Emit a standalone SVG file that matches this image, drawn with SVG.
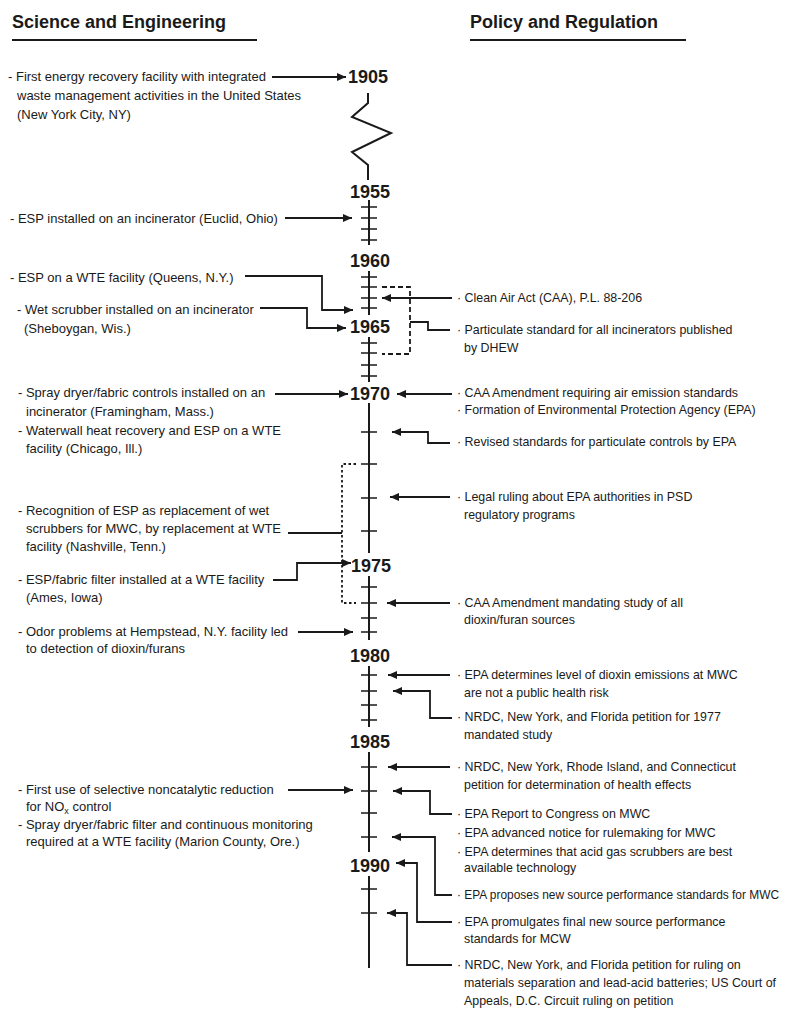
<svg xmlns="http://www.w3.org/2000/svg" width="796" height="1010" viewBox="0 0 796 1010">
<style>
.t{font-family:"Liberation Sans",Arial,sans-serif;font-size:13px;fill:#1a1a1a}
.r{font-family:"Liberation Sans",Arial,sans-serif;font-size:12.4px;fill:#1a1a1a}
.h{font-family:"Liberation Sans",Arial,sans-serif;font-size:18px;font-weight:bold;fill:#1a1a1a}
.y{font-family:"Liberation Sans",Arial,sans-serif;font-size:18px;font-weight:bold;fill:#1a1a1a;text-anchor:middle}
.ax{stroke:#1a1a1a;stroke-width:2;fill:none}
.tk{stroke:#1a1a1a;stroke-width:1.6}
.c{stroke:#1a1a1a;stroke-width:1.8;fill:none}
.ca{stroke:#1a1a1a;stroke-width:1.8;fill:none;marker-end:url(#ah)}
.dash{stroke:#1a1a1a;stroke-width:1.8;fill:none;stroke-dasharray:5 3}
.dot{stroke:#1a1a1a;stroke-width:1.8;fill:none;stroke-dasharray:2.5 2.5}
</style>
<defs>
<marker id="ah" markerUnits="userSpaceOnUse" markerWidth="10" markerHeight="8" refX="9" refY="4" orient="auto">
<path d="M0,0 L9,4 L0,8 z" fill="#1a1a1a"/>
</marker>
</defs>
<rect width="796" height="1010" fill="#fff"/>

<g id="headers">
<text class="h" x="12" y="28">Science and Engineering</text>
<line x1="12" y1="40" x2="257" y2="40" stroke="#1a1a1a" stroke-width="2"/>
<text class="h" x="470" y="28">Policy and Regulation</text>
<line x1="470" y1="40" x2="686" y2="40" stroke="#1a1a1a" stroke-width="2"/>
</g>

<g id="axis">
<path class="ax" d="M368,93 L368,103 L352,117 L391,133 L352,152 L368,165 L368,180"/>
<path class="ax" d="M369,200 V245 M369,271 V315 M369,337 V382 M369,403 V553 M369,576 V640 M369,666 V727 M369,752 V852 M369,876 V968"/>
<path class="tk" d="M361,207 H377 M361,218 H377 M361,229 H377 M361,240 H377
M361,277 H377 M361,287 H377 M361,298 H377 M361,308 H377
M361,343 H377 M361,353 H377 M361,365 H377 M361,376 H377
M361,432 H377 M361,464 H377 M361,498 H377 M361,531 H377
M361,587 H377 M361,603 H377 M361,618 H377 M361,632 H377
M361,675 H377 M361,691 H377 M361,705 H377 M361,720 H377
M361,767 H377 M361,791 H377 M361,813 H377 M361,837 H377
M361,889 H377 M361,913 H377"/>
</g>

<g id="years">
<text id="y1905" class="y" x="368" y="83">1905</text>
<text id="y1955" class="y" x="370" y="198">1955</text>
<text id="y1960" class="y" x="370" y="267">1960</text>
<text id="y1965" class="y" x="370" y="333">1965</text>
<text id="y1970" class="y" x="370" y="400">1970</text>
<text id="y1975" class="y" x="371" y="572">1975</text>
<text id="y1980" class="y" x="370" y="662">1980</text>
<text id="y1985" class="y" x="370" y="748">1985</text>
<text id="y1990" class="y" x="370" y="872">1990</text>
</g>

<g id="connectors">
<path class="ca" d="M272,77 H346"/>
<path class="ca" d="M285,218 H352"/>
<path class="ca" d="M245,276 H322 V310 H353"/>
<path class="ca" d="M260,308 H307 V328 H346"/>
<path class="ca" d="M275,394 H348"/>
<path class="c" d="M288,533 H342"/>
<path class="ca" d="M273,580 H297 V563 H351"/>
<path class="ca" d="M298,632 H353"/>
<path class="ca" d="M288,790 H353"/>
<path class="dash" d="M382,287 H410 V354 H382"/>
<path class="dot" d="M356,464 H342 V603 H356"/>
<path class="ca" d="M452,298 H382"/>
<path class="c" d="M410,322 H428 V330 H450"/>
<path class="ca" d="M452,394 H397"/>
<path class="ca" d="M450,443 H428 V432 H392"/>
<path class="ca" d="M450,497 H390"/>
<path class="ca" d="M450,603 H387"/>
<path class="ca" d="M450,675 H388"/>
<path class="ca" d="M452,718 H430 V691 H393"/>
<path class="ca" d="M450,767 H388"/>
<path class="ca" d="M452,814 H430 V791 H393"/>
<path class="ca" d="M452,895 H435 V837 H392"/>
<path class="ca" d="M452,922 H417 V863 H396"/>
<path class="ca" d="M452,965 H407 V913 H387"/>
</g>

<g id="se1905" class="t"><text x="8" y="81">- First energy recovery facility with integrated</text><text x="17" y="100">waste management activities in the United States</text><text x="17" y="119">(New York City, NY)</text></g>
<g id="se-euclid" class="t"><text x="10" y="223">- ESP installed on an incinerator (Euclid, Ohio)</text></g>
<g id="se-queens" class="t"><text x="10" y="282">- ESP on a WTE facility (Queens, N.Y.)</text></g>
<g id="se-sheboygan" class="t"><text x="17" y="314">- Wet scrubber installed on an incinerator</text><text x="24" y="333">(Sheboygan, Wis.)</text></g>
<g id="se-framingham" class="t"><text x="18" y="397">- Spray dryer/fabric controls installed on an</text><text x="26" y="416">incinerator (Framingham, Mass.)</text></g>
<g id="se-chicago" class="t"><text x="18" y="435">- Waterwall heat recovery and ESP on a WTE</text><text x="26" y="453">facility (Chicago, Ill.)</text></g>
<g id="se-nashville" class="t"><text x="18" y="515">- Recognition of ESP as replacement of wet</text><text x="26" y="533">scrubbers for MWC, by replacement at WTE</text><text x="26" y="551">facility (Nashville, Tenn.)</text></g>
<g id="se-ames" class="t"><text x="18" y="584">- ESP/fabric filter installed at a WTE facility</text><text x="26" y="602">(Ames, Iowa)</text></g>
<g id="se-hempstead" class="t"><text x="18" y="636">- Odor problems at Hempstead, N.Y. facility led</text><text x="26" y="653">to detection of dioxin/furans</text></g>
<g id="se-nox" class="t"><text x="18" y="794">- First use of selective noncatalytic reduction</text><text x="26" y="811">for NO<tspan font-size="9" dy="3">x</tspan><tspan dy="-3"> control</tspan></text></g>
<g id="se-marion" class="t"><text x="18" y="829">- Spray dryer/fabric filter and continuous monitoring</text><text x="26" y="846">required at a WTE facility (Marion County, Ore.)</text></g>

<g id="pr-caa" class="r"><text x="457" y="302">· Clean Air Act (CAA), P.L. 88-206</text></g>
<g id="pr-dhew" class="r"><text x="457" y="334">· Particulate standard for all incinerators published</text><text x="464" y="352">by DHEW</text></g>
<g id="pr-caa70" class="r"><text x="457" y="397">· CAA Amendment requiring air emission standards</text><text x="457" y="414">· Formation of Environmental Protection Agency (EPA)</text></g>
<g id="pr-revised" class="r"><text x="457" y="446">· Revised standards for particulate controls by EPA</text></g>
<g id="pr-legal" class="r"><text x="457" y="501">· Legal ruling about EPA authorities in PSD</text><text x="464" y="519">regulatory programs</text></g>
<g id="pr-caa77" class="r"><text x="457" y="607">· CAA Amendment mandating study of all</text><text x="464" y="624">dioxin/furan sources</text></g>
<g id="pr-dioxin" class="r"><text x="457" y="679">· EPA determines level of dioxin emissions at MWC</text><text x="464" y="697">are not a public health risk</text></g>
<g id="pr-nrdc1977" class="r"><text x="457" y="721">· NRDC, New York, and Florida petition for 1977</text><text x="464" y="739">mandated study</text></g>
<g id="pr-nrdcri" class="r"><text x="457" y="771">· NRDC, New York, Rhode Island, and Connecticut</text><text x="464" y="789">petition for determination of health effects</text></g>
<g id="pr-report" class="r"><text x="457" y="818">· EPA Report to Congress on MWC</text><text x="457" y="837">· EPA advanced notice for rulemaking for MWC</text><text x="457" y="856">· EPA determines that acid gas scrubbers are best</text><text x="464" y="872">available technology</text></g>
<g id="pr-proposes" class="r"><text x="457" y="899" textLength="322" lengthAdjust="spacingAndGlyphs">· EPA proposes new source performance standards for MWC</text></g>
<g id="pr-promulgates" class="r"><text x="457" y="926">· EPA promulgates final new source performance</text><text x="464" y="943">standards for MCW</text></g>
<g id="pr-nrdcruling" class="r"><text x="457" y="969">· NRDC, New York, and Florida petition for ruling on</text><text x="464" y="987">materials separation and lead-acid batteries; US Court of</text><text x="464" y="1005">Appeals, D.C. Circuit ruling on petition</text></g>
</svg>
